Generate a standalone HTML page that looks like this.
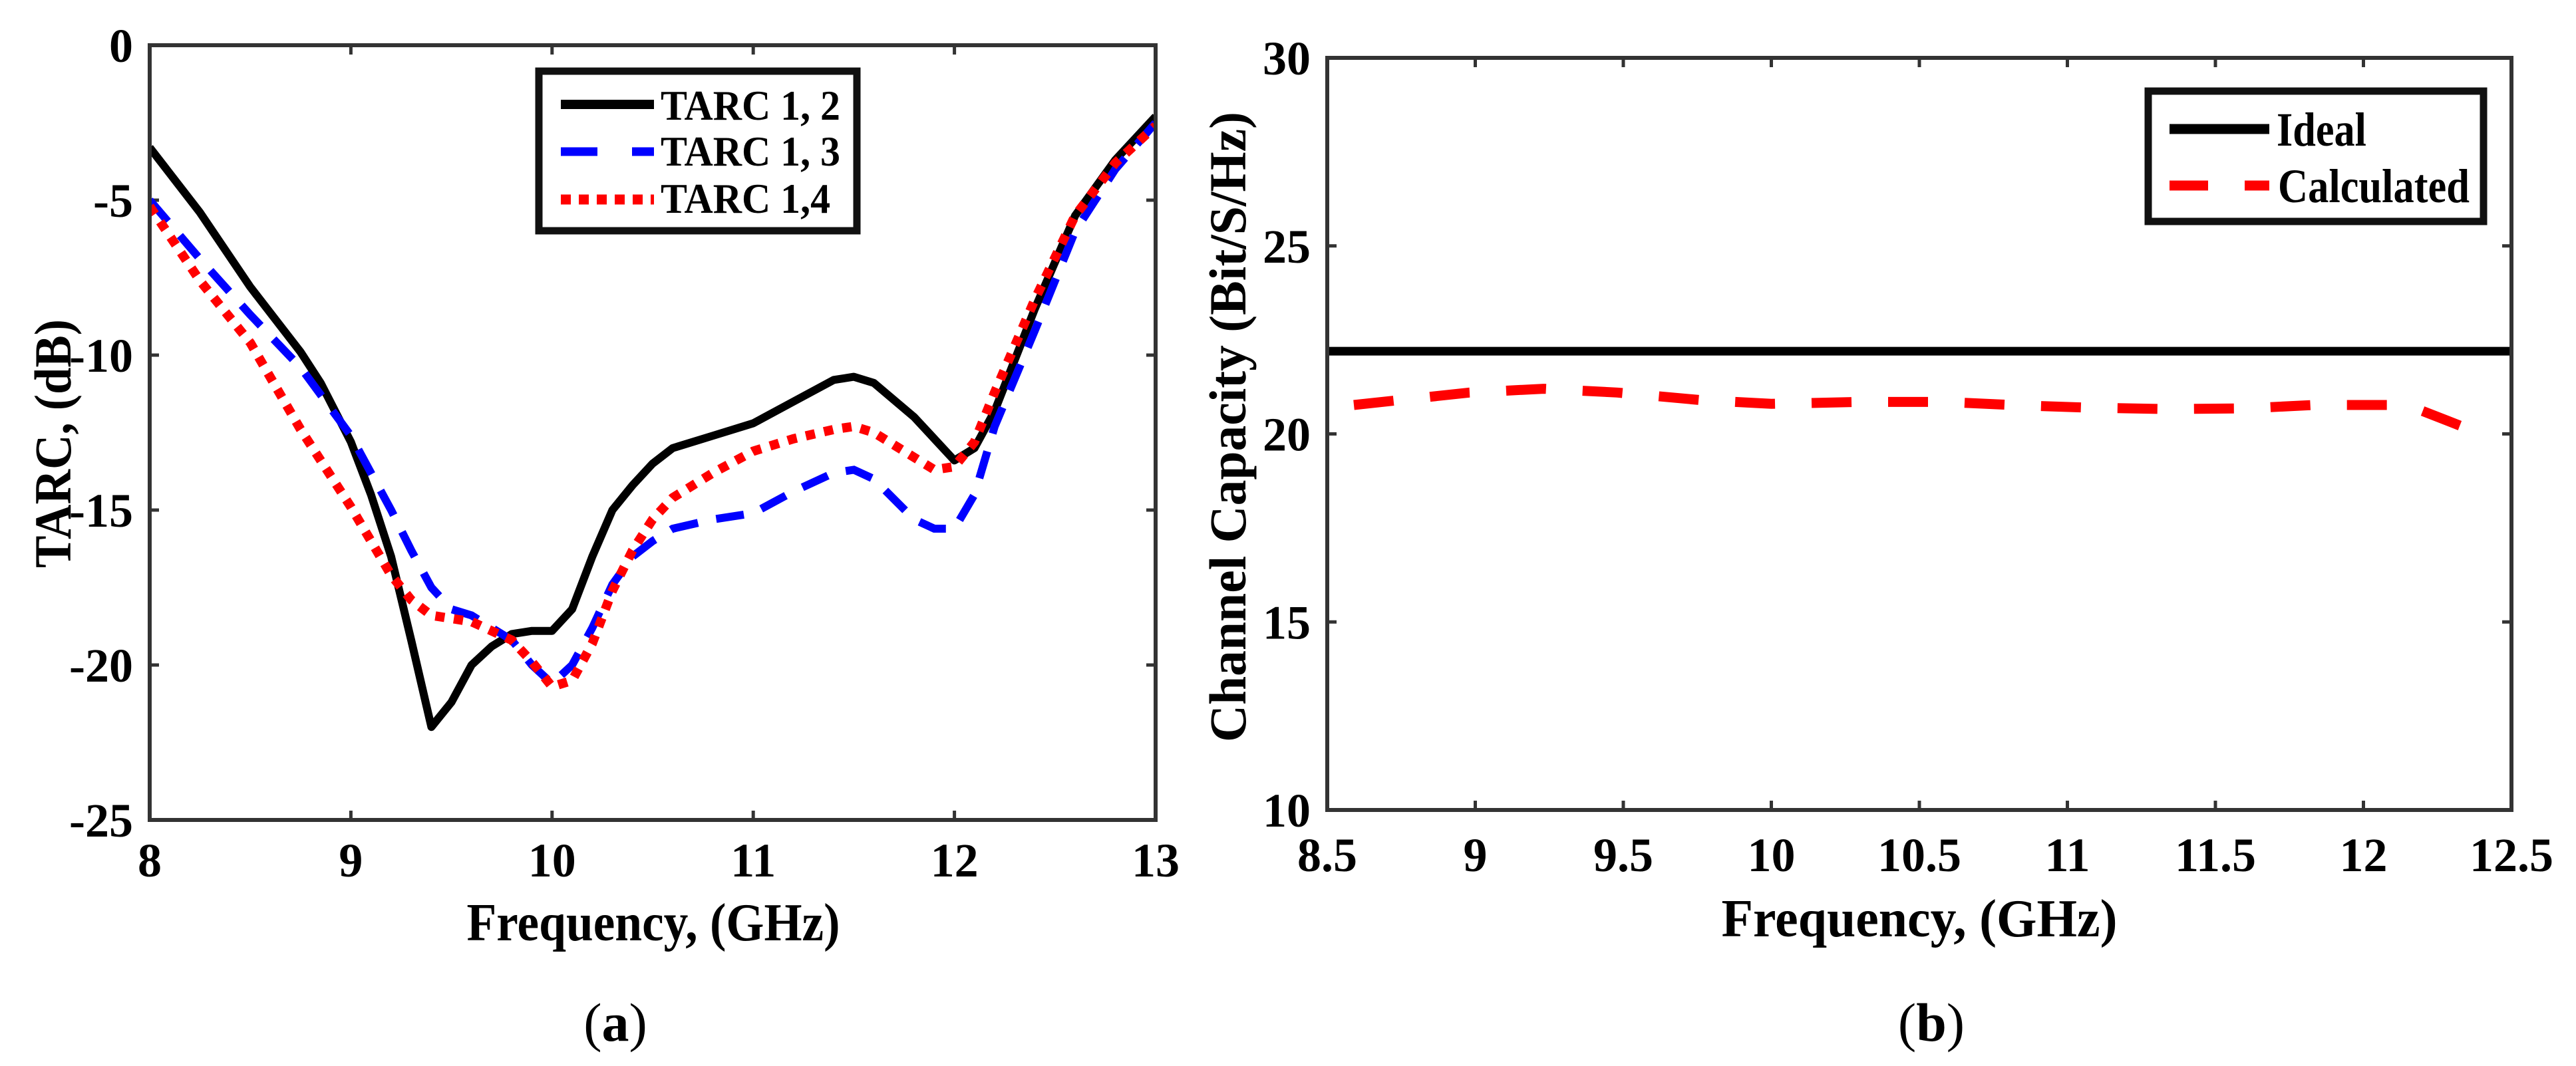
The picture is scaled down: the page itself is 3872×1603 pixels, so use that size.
<!DOCTYPE html>
<html><head><meta charset="utf-8"><style>
html,body{margin:0;padding:0;background:#fff;width:3872px;height:1603px;overflow:hidden}
svg{display:block}
text{font-family:"Liberation Serif",serif;font-weight:bold;fill:#000}
</style></head><body>
<svg id="fig" width="3872" height="1603" viewBox="0 0 3872 1603" xmlns="http://www.w3.org/2000/svg"></svg>
<script>
// ---- Panel (a) data ----
const freqA = [8.0,8.25,8.5,8.75,8.85,9.0,9.1,9.2,9.3,9.4,9.5,9.6,9.7,9.8,9.9,10.0,10.1,10.2,10.3,10.4,10.5,10.6,10.8,11.0,11.2,11.4,11.5,11.6,11.8,12.0,12.1,12.2,12.4,12.6,12.8,13.0];
const tarc12 = [-3.3,-5.4,-7.8,-9.9,-10.9,-12.8,-14.5,-16.5,-19.2,-22.0,-21.2,-20.0,-19.4,-19.0,-18.9,-18.9,-18.2,-16.5,-15.0,-14.2,-13.5,-13.0,-12.6,-12.2,-11.5,-10.8,-10.7,-10.9,-12.0,-13.4,-13.0,-11.8,-8.5,-5.5,-3.7,-2.3];
const freqB13 = [8.0,8.25,8.5,8.75,9.0,9.1,9.2,9.3,9.4,9.5,9.6,9.7,9.8,9.9,10.0,10.1,10.2,10.3,10.4,10.5,10.6,10.8,11.0,11.2,11.4,11.5,11.6,11.8,11.9,12.0,12.1,12.2,12.4,12.6,12.8,13.0];
const tarc13 = [-5.0,-6.9,-8.7,-10.4,-12.6,-13.8,-15.0,-16.3,-17.5,-18.2,-18.4,-18.8,-19.2,-20.0,-20.6,-20.0,-18.8,-17.4,-16.5,-16.0,-15.6,-15.3,-15.1,-14.4,-13.8,-13.7,-14.0,-15.3,-15.6,-15.6,-14.5,-12.3,-9.2,-6.0,-4.0,-2.5];
const freq14 = [8.0,8.25,8.5,8.75,9.0,9.2,9.3,9.4,9.5,9.6,9.7,9.8,9.9,10.0,10.1,10.2,10.3,10.4,10.5,10.6,10.8,11.0,11.2,11.4,11.5,11.6,11.8,11.9,12.0,12.1,12.2,12.4,12.6,12.8,13.0];
const tarc14 = [-5.2,-7.6,-9.6,-12.4,-14.9,-17.1,-17.9,-18.4,-18.5,-18.6,-18.9,-19.2,-19.9,-20.7,-20.5,-19.3,-17.6,-16.3,-15.3,-14.6,-13.8,-13.1,-12.7,-12.4,-12.3,-12.5,-13.3,-13.7,-13.6,-12.8,-11.2,-8.2,-5.5,-3.8,-2.6];
const xTicksA = [8,9,10,11,12,13];
const yTicksA = [0,-5,-10,-15,-20,-25];
// ---- Panel (b) data ----
const freqCalc = [8.59,8.98,9.23,9.48,9.76,10.0,10.3,10.59,10.81,11.06,11.34,11.61,11.83,12.08,12.17,12.3,12.43];
const capCalc = [20.77,21.1,21.2,21.1,20.9,20.8,20.85,20.85,20.77,20.7,20.66,20.68,20.77,20.77,20.7,20.3,19.9];
const idealCap = [22.2];
const xTicksB = [8.5,9,9.5,10,10.5,11,11.5,12,12.5];
const yTicksB = [10,15,20,25,30];

const NS='http://www.w3.org/2000/svg';
const svg=document.getElementById('fig');
function mk(tag,attrs,parent,txt){const e=document.createElementNS(NS,tag);for(const k in attrs)e.setAttribute(k,attrs[k]);if(txt!==undefined)e.textContent=txt;(parent||svg).appendChild(e);return e;}

// axes geometry
const A={x0:225,x1:1737,y0:68,y1:1233,xmin:8,xmax:13,ymin:-25,ymax:0};
const B={x0:1995,x1:3775,y0:87,y1:1218,xmin:8.5,xmax:12.5,ymin:10,ymax:30};
const sx=(ax,v)=>ax.x0+(v-ax.xmin)/(ax.xmax-ax.xmin)*(ax.x1-ax.x0);
const sy=(ax,v)=>ax.y1-(v-ax.ymin)/(ax.ymax-ax.ymin)*(ax.y1-ax.y0);
function pathFrom(ax,xs,ys){return xs.map((x,i)=>(i?'L':'M')+sx(ax,x).toFixed(1)+','+sy(ax,ys[i]).toFixed(1)).join(' ');}

function drawAxes(ax,xt,yt,g,xLabelY,yLabelRight,prefix){
  for(const t of xt){
    const x=sx(ax,t);
    const tk=mk('line',{x1:x,y1:ax.y1,x2:x,y2:ax.y1-14,stroke:'#333','stroke-width':5},g);
    
    
    const tk2=mk('line',{x1:x,y1:ax.y0,x2:x,y2:ax.y0+14,stroke:'#333','stroke-width':5},g);
    
    
    const lb=mk('text',{x:x,y:xLabelY,'text-anchor':'middle','font-size':72},g,String(t));
    
    
  }
  for(const t of yt){
    const y=sy(ax,t);
    const tk=mk('line',{x1:ax.x0,y1:y,x2:ax.x0+14,y2:y,stroke:'#333','stroke-width':5},g);
    
    
    const tk2=mk('line',{x1:ax.x1,y1:y,x2:ax.x1-14,y2:y,stroke:'#333','stroke-width':5},g);
    
    
    const lb=mk('text',{x:yLabelRight,y:y+25,'text-anchor':'end','font-size':72},g,String(t));
    
    
  }
}

// ===== Panel A =====
const gA=mk('g',{});


const clipA=mk('clipPath',{id:'clipA'});mk('rect',{x:A.x0,y:A.y0,width:A.x1-A.x0,height:A.y1-A.y0},clipA);
drawAxes(A,xTicksA,yTicksA,gA,1318,200,'tarc');
const s12=mk('path',{d:pathFrom(A,freqA,tarc12),fill:'none',stroke:'#000','stroke-width':12,'stroke-linejoin':'round','clip-path':'url(#clipA)'},gA);


const s13=mk('path',{d:pathFrom(A,freqB13,tarc13),fill:'none',stroke:'#0000ff','stroke-width':12,'stroke-dasharray':'42 28','clip-path':'url(#clipA)'},gA);


const s14=mk('path',{d:pathFrom(A,freq14,tarc14),fill:'none',stroke:'#ff0000','stroke-width':14,'stroke-dasharray':'14 14','clip-path':'url(#clipA)'},gA);


const frA=mk('rect',{x:A.x0,y:A.y0,width:A.x1-A.x0,height:A.y1-A.y0,fill:'none',stroke:'#333','stroke-width':6},gA);


// legend A
const lgA=mk('g',{},gA);


mk('rect',{x:810,y:107,width:478,height:240,fill:'#fff',stroke:'#111','stroke-width':11},lgA);
mk('line',{x1:843,y1:157,x2:983,y2:157,stroke:'#000','stroke-width':14},lgA);
mk('line',{x1:843,y1:228,x2:983,y2:228,stroke:'#0000ff','stroke-width':13,'stroke-dasharray':'55 52'},lgA);
mk('line',{x1:843,y1:300,x2:983,y2:300,stroke:'#ff0000','stroke-width':15,'stroke-dasharray':'15 12'},lgA);
const la1=mk('text',{x:993,y:180,'font-size':64,textLength:270,lengthAdjust:'spacingAndGlyphs'},lgA,'TARC 1, 2');


const la2=mk('text',{x:993,y:249,'font-size':64,textLength:270,lengthAdjust:'spacingAndGlyphs'},lgA,'TARC 1, 3');


const la3=mk('text',{x:993,y:320,'font-size':64,textLength:255,lengthAdjust:'spacingAndGlyphs'},lgA,'TARC 1,4');


const ylA=mk('text',{x:0,y:0,'font-size':78,'text-anchor':'middle',transform:'translate(106,667) rotate(-90)',textLength:374,lengthAdjust:'spacingAndGlyphs'},gA,'TARC, (dB)');


const xlA=mk('text',{x:982,y:1414,'font-size':80,'text-anchor':'middle',textLength:561,lengthAdjust:'spacingAndGlyphs'},gA,'Frequency, (GHz)');


const capA=mk('text',{x:925,y:1565,'font-size':82,'text-anchor':'middle','font-weight':'normal',style:'font-weight:normal'},gA);
const ca1=mk('tspan',{},capA,'(');const ca2=mk('tspan',{'font-weight':'bold',style:'font-weight:bold'},capA,'a');const ca3=mk('tspan',{},capA,')');



// ===== Panel B =====
const gB=mk('g',{});


drawAxes(B,xTicksB,yTicksB,gB,1310,1970,'capacity');
const ideal=mk('line',{x1:B.x0,y1:sy(B,idealCap[0]),x2:B.x1,y2:sy(B,idealCap[0]),stroke:'#000','stroke-width':13},gB);


const calc=mk('path',{d:pathFrom(B,freqCalc,capCalc),fill:'none',stroke:'#ff0000','stroke-width':15,'stroke-dasharray':'60 55'},gB);


const frB=mk('rect',{x:B.x0,y:B.y0,width:B.x1-B.x0,height:B.y1-B.y0,fill:'none',stroke:'#333','stroke-width':6},gB);


const lgB=mk('g',{},gB);


mk('rect',{x:3229,y:137,width:504,height:196,fill:'#fff',stroke:'#111','stroke-width':11},lgB);
mk('line',{x1:3261,y1:194,x2:3411,y2:194,stroke:'#000','stroke-width':15},lgB);
mk('line',{x1:3261,y1:279,x2:3411,y2:279,stroke:'#ff0000','stroke-width':15,'stroke-dasharray':'58 55'},lgB);
const lb1=mk('text',{x:3422,y:219,'font-size':72,textLength:135,lengthAdjust:'spacingAndGlyphs'},lgB,'Ideal');


const lb2=mk('text',{x:3424,y:304,'font-size':72,textLength:288,lengthAdjust:'spacingAndGlyphs'},lgB,'Calculated');


const ylB=mk('text',{x:0,y:0,'font-size':78,'text-anchor':'middle',transform:'translate(1872,642) rotate(-90)',textLength:948,lengthAdjust:'spacingAndGlyphs'},gB,'Channel Capacity (Bit/S/Hz)');


const xlB=mk('text',{x:2885,y:1408,'font-size':80,'text-anchor':'middle',textLength:595,lengthAdjust:'spacingAndGlyphs'},gB,'Frequency, (GHz)');


const capB=mk('text',{x:2903,y:1565,'font-size':82,'text-anchor':'middle',style:'font-weight:normal'},gB);
mk('tspan',{},capB,'(');mk('tspan',{style:'font-weight:bold'},capB,'b');mk('tspan',{},capB,')');


</script>
</body></html>
